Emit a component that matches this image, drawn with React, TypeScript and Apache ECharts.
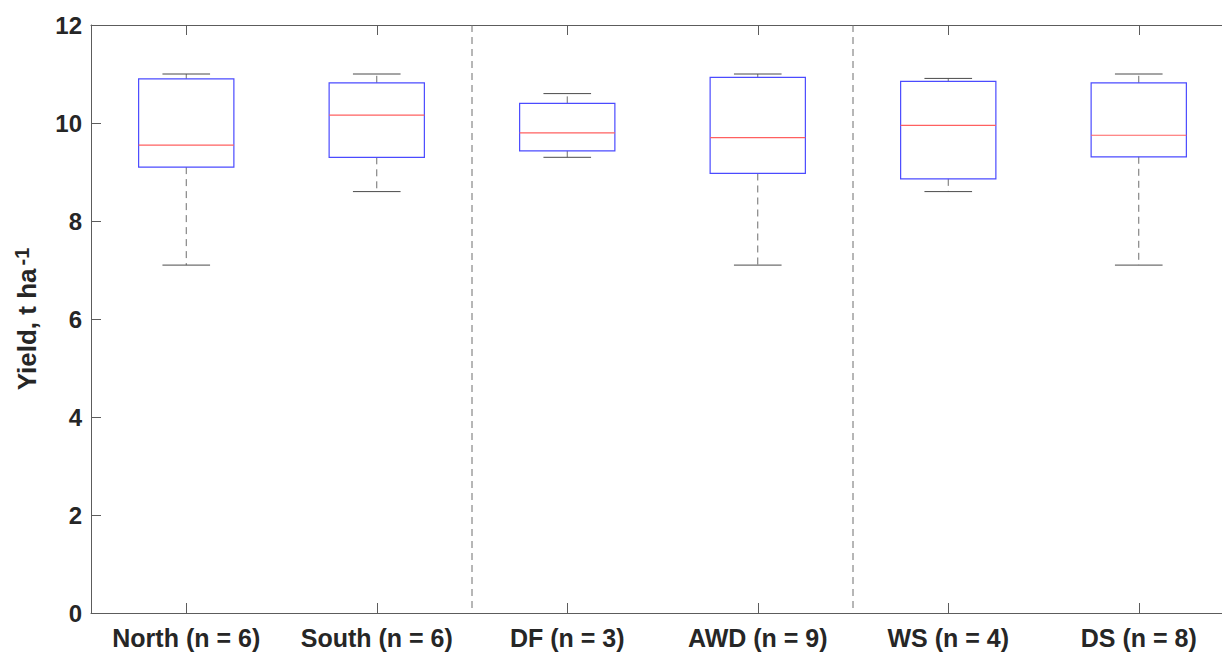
import React, { useEffect, useRef } from "react";
import * as echarts from "echarts";

const categories = [
  "North (n = 6)",
  "South (n = 6)",
  "DF (n = 3)",
  "AWD (n = 9)",
  "WS (n = 4)",
  "DS (n = 8)",
];
const lowerWhisker = [7.1, 8.6, 9.3, 7.1, 8.6, 7.1];
const q1 = [9.1, 9.3, 9.43, 8.97, 8.86, 9.31];
const median = [9.55, 10.16, 9.8, 9.7, 9.95, 9.75];
const q3 = [10.9, 10.82, 10.4, 10.93, 10.85, 10.82];
const upperWhisker = [11.0, 11.0, 10.6, 11.0, 10.91, 11.0];
const separatorAfter = ["South (n = 6)", "AWD (n = 9)"];
const yTicks = { min: 0, max: 12, interval: 2 };

const FONT = "'Liberation Sans', Arial, Helvetica, sans-serif";
const TEXT = "#262626";
const AXIS = "#5c5c5c";

export default function App() {
  const ref = useRef<HTMLDivElement>(null);
  useEffect(() => {
    if (!ref.current) return;
    const chart = echarts.init(ref.current, undefined, { renderer: "svg" });
    const boxData = categories.map((c, i) => [
      i,
      lowerWhisker[i],
      q1[i],
      median[i],
      q3[i],
      upperWhisker[i],
    ]);
    const sepData = separatorAfter.map((c) => [categories.indexOf(c)]);

    const option: any = {
      animation: false,
      backgroundColor: "#ffffff",
      grid: { left: 91, top: 25, right: 0, bottom: 40 },
      xAxis: [
        {
          type: "category",
          data: categories,
          boundaryGap: true,
          position: "bottom",
          axisLine: { show: true, lineStyle: { color: AXIS, width: 1 } },
          axisTick: {
            show: true,
            inside: true,
            alignWithLabel: true,
            length: 10,
            lineStyle: { color: AXIS },
          },
          axisLabel: {
            show: true,
            interval: 0,
            margin: 12,
            color: TEXT,
            fontFamily: FONT,
            fontWeight: "bold",
            fontSize: 25,
          },
          splitLine: { show: false },
        },
        {
          type: "category",
          data: categories,
          boundaryGap: true,
          position: "top",
          axisLine: { show: true, lineStyle: { color: AXIS, width: 1 } },
          axisTick: {
            show: true,
            inside: true,
            alignWithLabel: true,
            length: 10,
            lineStyle: { color: AXIS },
          },
          axisLabel: { show: false },
          splitLine: { show: false },
        },
      ],
      yAxis: {
        type: "value",
        min: yTicks.min,
        max: yTicks.max,
        interval: yTicks.interval,
        axisLine: { show: true, lineStyle: { color: AXIS, width: 1 } },
        axisTick: { show: true, inside: true, length: 10, lineStyle: { color: AXIS } },
        axisLabel: {
          margin: 9,
          color: TEXT,
          fontFamily: FONT,
          fontWeight: "bold",
          fontSize: 24,
        },
        splitLine: { show: false },
        name: "{a|Yield, t ha}{s|-1}",
        nameLocation: "middle",
        nameGap: 43,
        nameRotate: 90,
        nameTextStyle: {
          color: TEXT,
          fontFamily: FONT,
          fontWeight: "bold",
          fontSize: 26,
          rich: {
            a: { fontFamily: FONT, fontWeight: "bold", fontSize: 26, color: TEXT, lineHeight: 30 },
            s: {
              fontFamily: FONT,
              fontWeight: "bold",
              fontSize: 20,
              color: TEXT,
              verticalAlign: "top",
              lineHeight: 30,
              padding: [0, 0, 12, 3],
            },
          },
        },
      },
      series: [
        {
          type: "custom",
          name: "separators",
          xAxisIndex: 0,
          yAxisIndex: 0,
          data: sepData,
          encode: { x: 0 },
          silent: true,
          renderItem: (params: any, api: any) => {
            const idx = api.value(0);
            const band = api.size([1, 0])[0];
            const cx = api.coord([idx, 0])[0] + band / 2;
            const cs = params.coordSys;
            return {
              type: "line",
              shape: { x1: cx, y1: cs.y, x2: cx, y2: cs.y + cs.height },
              style: { stroke: "#6e6e6e", lineWidth: 1, lineDash: [7, 5], fill: "none" },
            };
          },
        },
        {
          type: "custom",
          name: "boxes",
          xAxisIndex: 0,
          yAxisIndex: 0,
          data: boxData,
          encode: { x: 0, y: [1, 2, 3, 4, 5] },
          silent: true,
          renderItem: (params: any, api: any) => {
            const idx = api.value(0);
            const band = api.size([1, 0])[0];
            const cx = api.coord([idx, 0])[0];
            const yLow = api.coord([idx, api.value(1)])[1];
            const yQ1 = api.coord([idx, api.value(2)])[1];
            const yMed = api.coord([idx, api.value(3)])[1];
            const yQ3 = api.coord([idx, api.value(4)])[1];
            const yHigh = api.coord([idx, api.value(5)])[1];
            const boxW = band * 0.5;
            const capW = band * 0.25;
            const whisker = { stroke: "#6e6e6e", lineWidth: 1, lineDash: [7, 5], fill: "none" };
            const cap = { stroke: "#4a4a4a", lineWidth: 1, fill: "none" };
            return {
              type: "group",
              children: [
                {
                  type: "line",
                  shape: { x1: cx, y1: yQ3, x2: cx, y2: yHigh },
                  style: whisker,
                },
                {
                  type: "line",
                  shape: { x1: cx, y1: yQ1, x2: cx, y2: yLow },
                  style: whisker,
                },
                {
                  type: "line",
                  shape: { x1: cx - capW / 2, y1: yHigh, x2: cx + capW / 2, y2: yHigh },
                  style: cap,
                },
                {
                  type: "line",
                  shape: { x1: cx - capW / 2, y1: yLow, x2: cx + capW / 2, y2: yLow },
                  style: cap,
                },
                {
                  type: "rect",
                  shape: { x: cx - boxW / 2, y: yQ3, width: boxW, height: yQ1 - yQ3 },
                  style: { stroke: "#4b4bff", lineWidth: 1.2, fill: "none" },
                },
                {
                  type: "line",
                  shape: { x1: cx - boxW / 2, y1: yMed, x2: cx + boxW / 2, y2: yMed },
                  style: { stroke: "#ff6060", lineWidth: 1.2, fill: "none" },
                },
              ],
            };
          },
        },
      ],
    };
    chart.setOption(option);
    return () => chart.dispose();
  }, []);
  return (
    <div
      ref={ref}
      style={{ position: "fixed", left: 0, top: 0, width: 1234, height: 653, background: "#fff" }}
    />
  );
}
